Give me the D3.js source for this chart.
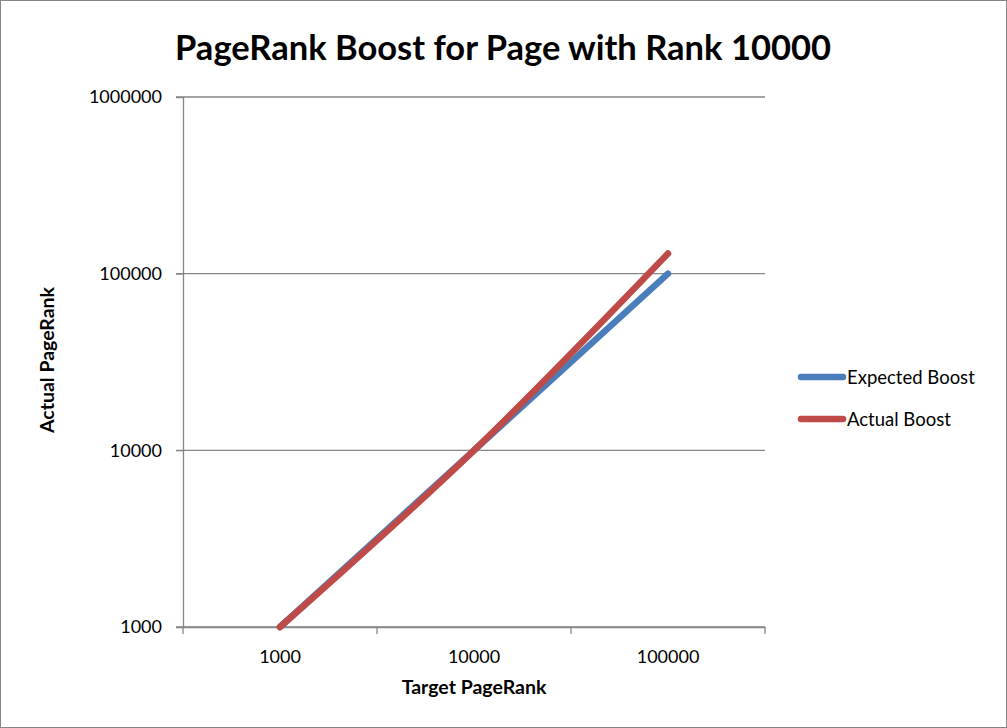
<!DOCTYPE html>
<html><head><meta charset="utf-8">
<script src="https://cdn.jsdelivr.net/npm/d3@7"></script>
<style>body{margin:0;background:#fff;} text{font-family:Lato,"Open Sans",sans-serif;}</style>
</head><body><svg id="c" width="1007" height="728"></svg>
<script>
const categories = ["1000","10000","100000"];
const expectedBoost = [1000,10000,100000];
const actualBoost = [1000,10000,130000];
const yTicks = [1000,10000,100000,1000000];
const seriesNames = ["Expected Boost","Actual Boost"];
const colors = ["#4A7EBB","#BE4B48"];

const svg = d3.select("#c");
svg.append("rect").attr("x",0.5).attr("y",0.5).attr("width",1006).attr("height",727)
  .attr("fill","#fff").attr("stroke","#868686");

const L=183,R=765,T=97,B=627;
const x = d3.scaleBand().domain(categories).range([L,R]);
const y = d3.scaleLog().domain([1000,1000000]).range([B,T]);

// gridlines
svg.append("g").selectAll("line").data(yTicks).join("line")
  .attr("x1",L-7).attr("x2",R).attr("y1",d=>y(d)).attr("y2",d=>y(d))
  .attr("stroke","#868686").attr("stroke-width",1.3);

// y axis
const ya = svg.append("g").attr("transform",`translate(${L},0)`)
  .call(d3.axisLeft(y).tickValues(yTicks).tickFormat(d3.format("d")).tickSize(7).tickPadding(14));
ya.select(".domain").attr("stroke","#868686").attr("stroke-width",1.3);
ya.selectAll(".tick line").attr("stroke","#868686");
ya.selectAll("text").attr("font-size",18).attr("fill","#000").style("font-family","Lato,'Open Sans',sans-serif");

// x axis
const xa = svg.append("g").attr("transform",`translate(0,${B})`)
  .call(d3.axisBottom(x).tickSize(0).tickPadding(23));
xa.select(".domain").attr("stroke","#868686").attr("stroke-width",1.3);
xa.selectAll("text").attr("font-size",18).attr("fill","#000").style("font-family","Lato,'Open Sans',sans-serif");
const bounds = categories.map(c=>x(c)).concat([R]);
svg.append("g").selectAll("line").data(bounds).join("line")
  .attr("x1",d=>d).attr("x2",d=>d).attr("y1",B).attr("y2",B+7)
  .attr("stroke","#868686").attr("stroke-width",1.3);

// lines
const line = d3.line().x((d,i)=>x(categories[i])+x.bandwidth()/2).y(d=>y(d)).curve(d3.curveCatmullRom.alpha(0));
[expectedBoost,actualBoost].forEach((s,i)=>{
  svg.append("path").attr("d",line(s)).attr("fill","none").attr("stroke",colors[i])
    .attr("stroke-width",6.5).attr("stroke-linecap","round").attr("stroke-linejoin","round");
});

// titles
svg.append("text").attr("x",503).attr("y",60).attr("text-anchor","middle")
  .attr("font-size",34.5).attr("font-weight","bold").text("PageRank Boost for Page with Rank 10000");
svg.append("text").attr("x",474).attr("y",694).attr("text-anchor","middle")
  .attr("font-size",19.5).attr("font-weight","bold").text("Target PageRank");
svg.append("text").attr("transform","translate(54,360) rotate(-90)").attr("text-anchor","middle")
  .attr("font-size",19.5).attr("font-weight","bold").text("Actual PageRank");

// legend
const lg = svg.append("g");
seriesNames.forEach((n,i)=>{
  const yy = 377 + i*42;
  lg.append("line").attr("x1",801).attr("x2",843).attr("y1",yy).attr("y2",yy)
    .attr("stroke",colors[i]).attr("stroke-width",6.5).attr("stroke-linecap","round");
  lg.append("text").attr("x",847).attr("y",yy+7).attr("font-size",18.5).text(n);
});
</script></body></html>
